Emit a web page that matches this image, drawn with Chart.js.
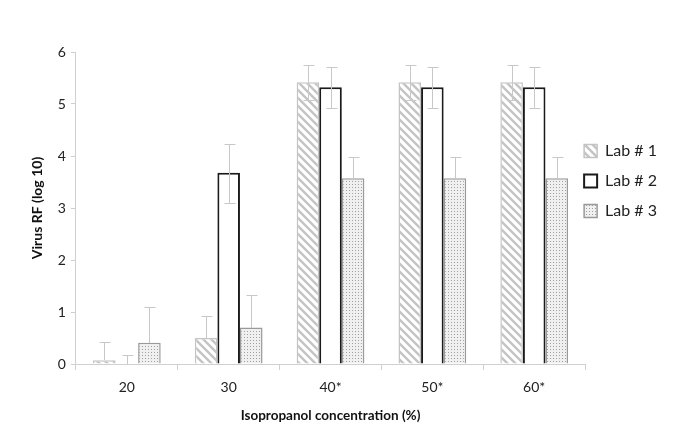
<!DOCTYPE html>
<html>
<head>
<meta charset="utf-8">
<script src="https://cdn.jsdelivr.net/npm/chart.js@4.4.1/dist/chart.umd.min.js"></script>
<style>
  body { margin: 0; background: #fff; }
  #wrap { width: 685px; height: 444px; }
</style>
</head>
<body>
<div id="wrap"><canvas id="c" width="685" height="444"></canvas></div>
<script>
// data
var categories = ['20', '30', '40*', '50*', '60*'];
var lab1 = [0.07, 0.5, 5.42, 5.42, 5.42];
var lab2 = [0, 3.68, 5.32, 5.32, 5.32];
var lab3 = [0.41, 0.7, 3.57, 3.57, 3.57];
// error bar ends (low, high); null = not drawn
var lab1Low = [null, null, 5.08, 5.08, 5.08];
var lab1High = [0.43, 0.93, 5.75, 5.75, 5.75];
var lab2Low = [null, 3.1, 4.92, 4.92, 4.92];
var lab2High = [0.18, 4.23, 5.72, 5.72, 5.72];
var lab3Low = [null, null, null, null, null];
var lab3High = [1.1, 1.32, 3.98, 3.98, 3.98];

function hatchPattern() {
	var t = document.createElement('canvas');
	t.width = 8; t.height = 8;
	var g = t.getContext('2d');
	g.fillStyle = '#fff';
	g.fillRect(0, 0, 8, 8);
	g.strokeStyle = '#c4c4c4';
	g.lineWidth = 2.4;
	g.beginPath();
	g.moveTo(-2, -2); g.lineTo(10, 10);
	g.moveTo(-2, 6); g.lineTo(2, 10);
	g.moveTo(6, -2); g.lineTo(10, 2);
	g.stroke();
	return g.createPattern(t, 'repeat');
}

function dotPattern() {
	var t = document.createElement('canvas');
	t.width = 3; t.height = 3;
	var g = t.getContext('2d');
	g.fillStyle = '#f0f0f0';
	g.fillRect(0, 0, 3, 3);
	g.fillStyle = '#a0a0a0';
	g.fillRect(1, 1, 1, 1);
	return g.createPattern(t, 'repeat');
}

var errLows = [lab1Low, lab2Low, lab3Low];
var errHighs = [lab1High, lab2High, lab3High];

var errorBars = {
	id: 'errorBars',
	afterDatasetsDraw: function(chart) {
		var ctx = chart.ctx;
		var y = chart.scales.y;
		ctx.save();
		ctx.strokeStyle = '#c8c8c8';
		ctx.lineWidth = 1;
		chart.data.datasets.forEach(function(ds, d) {
			var meta = chart.getDatasetMeta(d);
			meta.data.forEach(function(bar, i) {
				var x = Math.round(bar.x) + 0.5;
				var v = ds.data[i];
				var hi = errHighs[d][i];
				var lo = errLows[d][i];
				var top = hi != null ? Math.round(y.getPixelForValue(hi)) + 0.5 : null;
				var bot = lo != null ? Math.round(y.getPixelForValue(lo)) + 0.5 : Math.round(y.getPixelForValue(v));
				ctx.beginPath();
				if (top != null) {
					ctx.moveTo(x, top); ctx.lineTo(x, bot);
					ctx.moveTo(x - 5, top); ctx.lineTo(x + 6, top);
				}
				if (lo != null) {
					ctx.moveTo(x - 5, bot); ctx.lineTo(x + 6, bot);
				}
				ctx.stroke();
			});
		});
		ctx.restore();
	}
};

// nudge the legend closer to the plot and up a bit, like the original
var legendNudge = {
	id: 'legendNudge',
	afterLayout: function(chart) {
		var lg = chart.legend;
		lg.left -= 15; lg.right -= 15;
		lg.top -= 59; lg.bottom -= 59;
	}
};

var font = 'Lato, "Open Sans", sans-serif';

new Chart(document.getElementById('c'), {
	type: 'bar',
	data: {
		labels: categories,
		datasets: [
			{ label: 'Lab # 1', data: lab1, backgroundColor: hatchPattern(), borderColor: '#c4c4c4', borderWidth: 1.5 },
			{ label: 'Lab # 2', data: lab2, backgroundColor: '#fff', borderColor: '#1a1a1a', borderWidth: 2 },
			{ label: 'Lab # 3', data: lab3, backgroundColor: dotPattern(), borderColor: '#9a9a9a', borderWidth: 1.5 }
		]
	},
	options: {
		responsive: false,
		animation: false,
		categoryPercentage: 0.665,
		barPercentage: 1.0,
		layout: { padding: { top: 52, right: 3, bottom: 16, left: 25 } },
		plugins: {
			legend: {
				position: 'right',
				labels: {
					boxWidth: 13,
					boxHeight: 13,
					padding: 14,
					color: '#222',
					font: { family: font, size: 16 }
				}
			},
			tooltip: { enabled: false }
		},
		scales: {
			x: {
				grid: { display: true, drawOnChartArea: false, offset: true, color: '#d0d0d0', tickLength: 6 },
				border: { color: '#d0d0d0' },
				ticks: { color: '#222', font: { family: font, size: 14 }, padding: 9 },
				title: { display: true, text: 'Isopropanol concentration (%)', color: '#111', font: { family: font, size: 13.5, weight: 'bold' }, padding: { top: 3 } }
			},
			y: {
				min: 0, max: 6,
				ticks: { stepSize: 1, color: '#222', font: { family: font, size: 14 }, padding: 5 },
				grid: { display: true, drawOnChartArea: false, color: '#d0d0d0', tickLength: 5 },
				border: { color: '#d0d0d0' },
				title: { display: true, text: 'Virus RF (log 10)', color: '#111', font: { family: font, size: 14, weight: 'bold' }, padding: { bottom: 7 } }
			}
		}
	},
	plugins: [errorBars, legendNudge]
});
</script>
</body>
</html>
